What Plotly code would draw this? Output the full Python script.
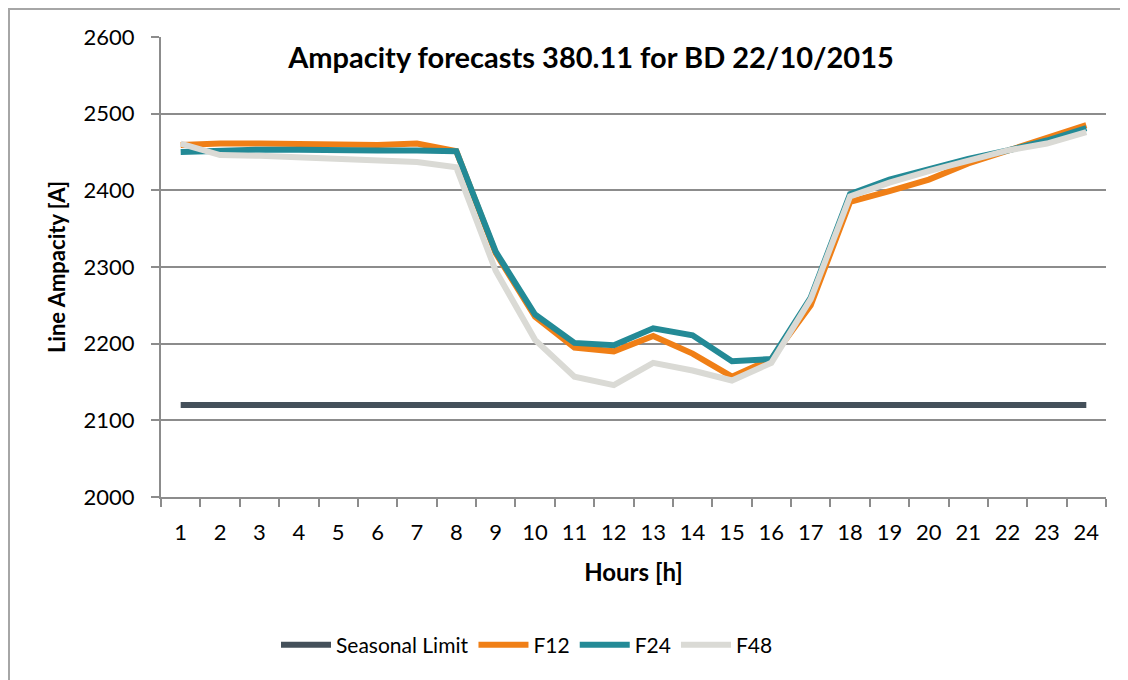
import plotly.graph_objects as go


HOURS = [str(h) for h in range(1, 25)]

SEASONAL_LIMIT = [2120] * 24
F12 = [2459, 2461, 2461, 2460, 2459, 2459, 2461, 2451, 2318, 2235, 2195, 2190,
       2210, 2187, 2157, 2180, 2250, 2385, 2399, 2414, 2435, 2451, 2467, 2485]
F24 = [2450, 2452, 2453, 2453, 2452, 2452, 2452, 2451, 2320, 2238, 2201, 2198,
       2220, 2211, 2177, 2180, 2260, 2395, 2414, 2428, 2441, 2452, 2465, 2481]
F48 = [2461, 2446, 2445, 2443, 2441, 2439, 2437, 2430, 2295, 2205, 2157, 2146,
       2175, 2165, 2152, 2175, 2258, 2392, 2410, 2425, 2439, 2452, 2461, 2476]

SERIES = [
    ("Seasonal Limit", SEASONAL_LIMIT, "#44505A"),
    ("F12", F12, "#F07F16"),
    ("F24", F24, "#238A96"),
    ("F48", F48, "#DADAD5"),
]

FONT = "Lato, 'Open Sans', sans-serif"
GRID = "#8C8C8C"

# page puts the figure 8px in from the top-left corner
W, H = 1128, 680
L, R, T, B = 153, 30, 29, 191
PW, PH = W - L - R, H - T - B

fig = go.Figure()
for name, values, color in SERIES:
    fig.add_trace(go.Scatter(
        x=HOURS, y=values, name=name, mode="lines",
        line=dict(color=color, width=6),
    ))

fig.update_layout(
    width=W,
    height=H,
    paper_bgcolor="white",
    plot_bgcolor="white",
    font=dict(family=FONT, size=22, color="#000000"),
    margin=dict(l=L, r=R, t=T, b=B),
    title=dict(
        text="<b>Ampacity forecasts 380.11 for BD 22/10/2015</b>",
        x=583 / W, xanchor="center",
        y=1 - 50 / H, yanchor="middle",
        font=dict(family=FONT, size=29, color="#000000"),
    ),
    showlegend=True,
    legend=dict(
        orientation="h",
        x=(519 - L) / PW, xanchor="center",
        y=-(637 - (T + PH)) / PH, yanchor="middle",
        font=dict(family=FONT, size=21),
        itemwidth=50,
        traceorder="normal",
    ),
    shapes=[dict(
        type="rect", xref="paper", yref="paper",
        x0=-(L - 1) / PW, x1=1.2,
        y0=-1, y1=1 + (T - 1) / PH,
        line=dict(color="#A6A6A6", width=2),
        layer="below",
    )],
)

fig.update_xaxes(
    type="category",
    range=[-0.5, 23.5],
    automargin=False,
    title=dict(text="<b>Hours [h]</b>", font=dict(family=FONT, size=24), standoff=20),
    tickson="boundaries",
    ticks="outside", ticklen=8, tickcolor=GRID, tickwidth=2,
    showline=True, linecolor=GRID, linewidth=2,
    showgrid=False,
    ticklabelstandoff=15,
)

fig.update_yaxes(
    range=[2000, 2600],
    tickvals=[2000, 2100, 2200, 2300, 2400, 2500, 2600],
    automargin=False,
    title=dict(text="<b>Line Ampacity [A]</b>", font=dict(family=FONT, size=22), standoff=12),
    ticks="outside", ticklen=8, tickcolor=GRID, tickwidth=2,
    showline=True, linecolor=GRID, linewidth=2,
    showgrid=True, gridcolor=GRID, gridwidth=2,
    zeroline=False,
    ticklabelstandoff=12,
)

fig.write_html("out.html", post_script="document.body.style.overflow = 'hidden';")
